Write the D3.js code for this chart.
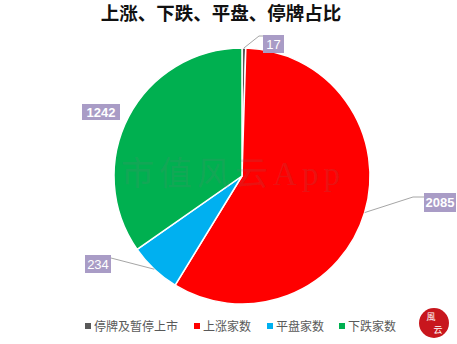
<!DOCTYPE html>
<html>
<head>
<meta charset="utf-8">
<script src="https://cdn.jsdelivr.net/npm/d3@7"></script>
<style>
  body { margin: 0; background: #fff; }
  svg { display: block; }
</style>
</head>
<body>
<svg id="chart" width="457" height="344"></svg>
<script>
var categories = ["停牌及暂停上市", "上涨家数", "平盘家数", "下跌家数"];
var values = [17, 2085, 234, 1242];
var colors = ["#595959", "#ff0000", "#00b0f0", "#00b050"];

var W = 457, H = 344;
var cx = 242, cy = 176, radius = 128;

// where each label box sits (box left/top), and the elbow of its leader
var labelBoxes = [
  { x: 263, y: 35, w: 21, h: 18, elbow: [259, 36] },
  { x: 424, y: 193, w: 32, h: 19, elbow: [413, 197] },
  { x: 85, y: 255, w: 26, h: 18, elbow: null },
  { x: 82, y: 104, w: 38, h: 16, elbow: null }
];

var svg = d3.select("#chart");

svg.append("text")
  .attr("x", 221)
  .attr("y", 20)
  .attr("text-anchor", "middle")
  .style("font-family", "'Noto Sans CJK SC', sans-serif")
  .style("font-weight", "bold")
  .style("font-size", "18.5px")
  .style("fill", "#111")
  .text("上涨、下跌、平盘、停牌占比");

var pie = d3.pie().sort(null).value(d => d);
var arcs = pie(values);
var arc = d3.arc().innerRadius(0).outerRadius(radius);

var g = svg.append("g").attr("transform", "translate(" + cx + "," + cy + ")");

g.selectAll("path.slice")
  .data(arcs)
  .join("path")
  .classed("slice", true)
  .attr("d", arc)
  .attr("fill", (d, i) => colors[i])
  .attr("stroke", "#fff")
  .attr("stroke-width", 1.5);

// watermark
svg.append("text")
  .attr("x", 233)
  .attr("y", 185)
  .attr("text-anchor", "middle")
  .style("font-family", "'Liberation Serif', 'Noto Sans CJK SC', serif")
  .style("font-size", "33px")
  .style("letter-spacing", "5px")
  .style("fill", "rgba(120,120,120,0.17)")
  .text("市值风云App");

// leader lines
arcs.forEach((d, i) => {
  var b = labelBoxes[i];
  if (i == 3) return;
  var mid = (d.startAngle + d.endAngle) / 2;
  var p = d3.pointRadial(mid, radius);
  var edge = [cx + p[0], cy + p[1]];
  var pts = [edge];
  if (b.elbow) pts.push(b.elbow);
  var bx = b.x + b.w < edge[0] ? b.x + b.w : b.x;
  pts.push([bx, b.elbow ? b.elbow[1] : b.y + 3]);
  svg.append("path")
    .attr("d", d3.line()(pts))
    .attr("fill", "none")
    .attr("stroke", "#a6a6a6")
    .attr("stroke-width", 1);
});

// value labels
var labels = svg.selectAll("g.lbl")
  .data(arcs)
  .join("g")
  .classed("lbl", true);

labels.append("rect")
  .attr("x", (d, i) => labelBoxes[i].x)
  .attr("y", (d, i) => labelBoxes[i].y)
  .attr("width", (d, i) => labelBoxes[i].w)
  .attr("height", (d, i) => labelBoxes[i].h)
  .attr("fill", "#a99cc6");

labels.append("text")
  .attr("x", (d, i) => labelBoxes[i].x + labelBoxes[i].w / 2)
  .attr("y", (d, i) => labelBoxes[i].y + labelBoxes[i].h / 2 + 4.5)
  .attr("text-anchor", "middle")
  .style("font-family", "'Liberation Sans', Arial, sans-serif")
  .style("font-size", "13px")
  .style("font-weight", (d, i) => (i == 3 || i == 1) ? "bold" : "normal")
  .style("fill", "#fff")
  .text(d => d.data);

// legend
var legendX = [85, 194, 267, 339];
var legend = svg.selectAll("g.legend")
  .data(categories)
  .join("g")
  .classed("legend", true)
  .attr("transform", (d, i) => "translate(" + legendX[i] + ",326)");

legend.append("rect")
  .attr("x", 0).attr("y", -3)
  .attr("width", 6).attr("height", 6)
  .attr("fill", (d, i) => colors[i]);

legend.append("text")
  .attr("x", 9)
  .attr("y", 5)
  .style("font-family", "'Noto Sans CJK SC', sans-serif")
  .style("font-size", "12px")
  .style("fill", "#595959")
  .text(d => d);

// logo
var logo = svg.append("g").attr("transform", "translate(434,323)");
logo.append("circle").attr("r", 15).attr("fill", "#c8161d");
logo.append("text")
  .attr("x", -3).attr("y", -3)
  .attr("text-anchor", "middle")
  .style("font-family", "'Noto Sans CJK SC', sans-serif")
  .style("font-size", "9px")
  .style("fill", "#fff")
  .text("風");
logo.append("text")
  .attr("x", 4).attr("y", 10)
  .attr("text-anchor", "middle")
  .style("font-family", "'Noto Sans CJK SC', sans-serif")
  .style("font-size", "9px")
  .style("fill", "#fff")
  .text("云");
</script>
</body>
</html>
